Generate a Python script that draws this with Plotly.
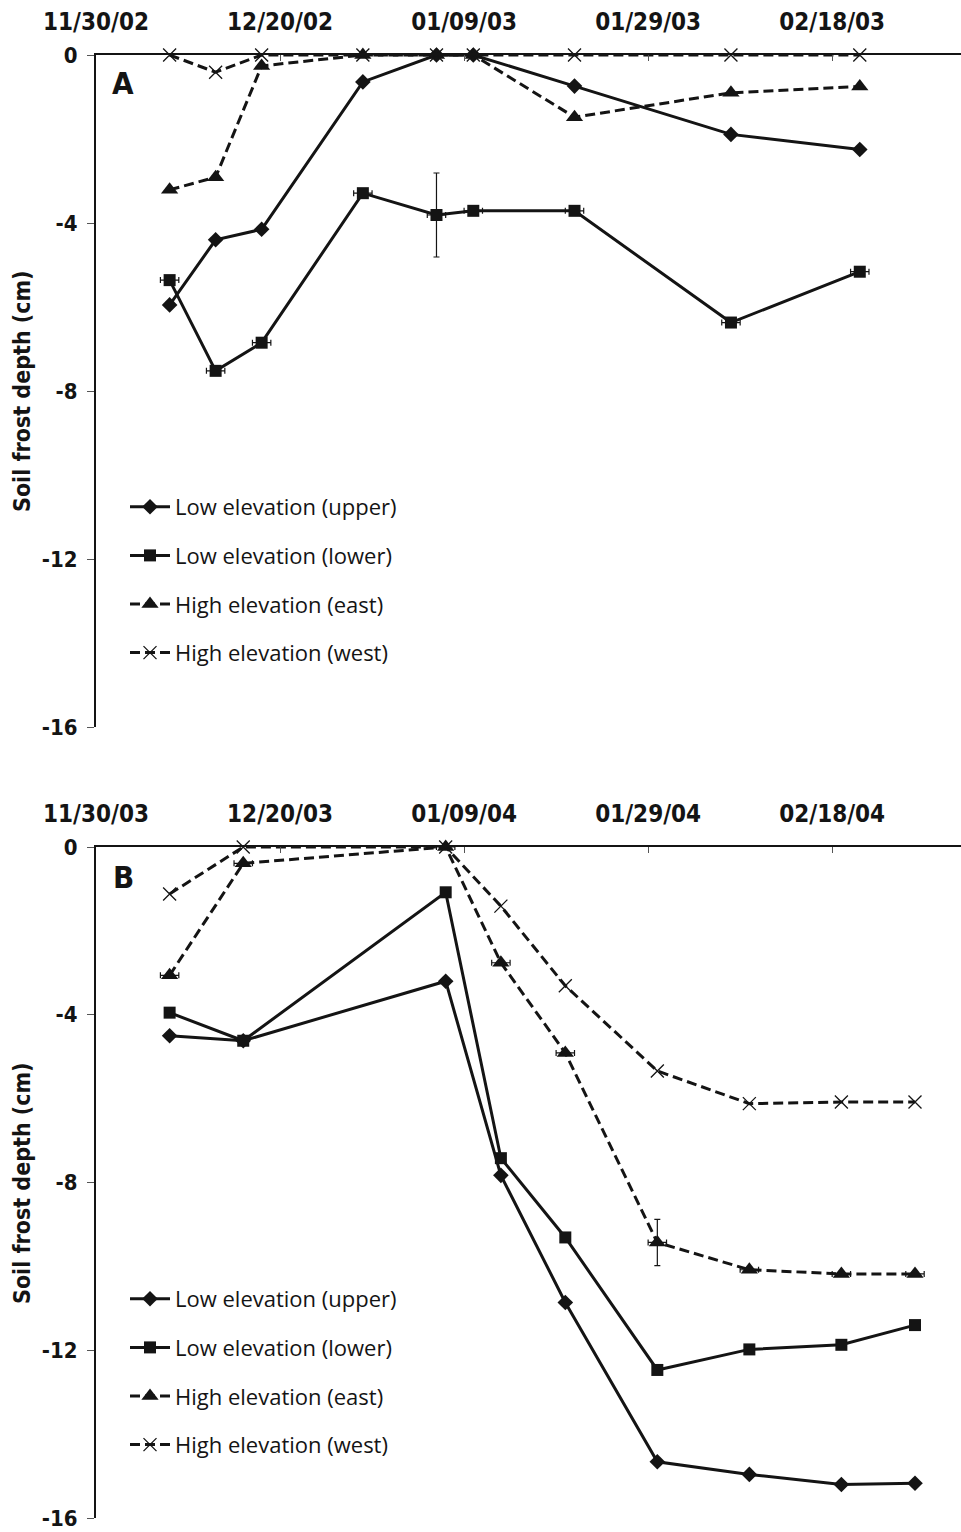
import pandas as pd
import plotly.graph_objects as go

# ---------------- data ----------------
series_names = ["Low elevation (upper)", "Low elevation (lower)",
                "High elevation (east)", "High elevation (west)"]

# Panel A: winter 2002-2003
start_a = "2002-11-30"
dates_a = ["2002-12-08", "2002-12-13", "2002-12-18", "2002-12-29", "2003-01-06",
           "2003-01-10", "2003-01-21", "2003-02-07", "2003-02-21"]
a_upper = [-5.95, -4.40, -4.15, -0.64, 0.0, 0.0, -0.74, -1.89, -2.25]
a_lower = [-5.36, -7.52, -6.85, -3.29, -3.81, -3.71, -3.71, -6.37, -5.16]
a_east = [-3.21, -2.91, -0.26, 0.0, 0.0, 0.0, -1.48, -0.90, -0.75]
a_west = [0.0, -0.41, 0.0, 0.0, 0.0, 0.0, 0.0, 0.0, 0.0]
a_lower_xerr_days = [1, 1, 1, 1, 1, 1, 1, 1, 1]
a_lower_yerr = [None, None, None, None, 1.0, None, None, None, None]
x_ticktext_a = ["11/30/02", "12/20/02", "01/09/03", "01/29/03", "02/18/03"]

# Panel B: winter 2003-2004
start_b = "2003-11-30"
dates_b = ["2003-12-08", "2003-12-16", "2004-01-07", "2004-01-13", "2004-01-20",
           "2004-01-30", "2004-02-09", "2004-02-19", "2004-02-27"]
b_upper = [-4.50, -4.62, -3.20, -7.83, -10.86, -14.66, -14.96, -15.20, -15.17]
b_lower = [-3.95, -4.62, -1.08, -7.42, -9.31, -12.47, -11.98, -11.87, -11.40]
b_east = [-3.06, -0.39, 0.0, -2.76, -4.91, -9.43, -10.08, -10.18, -10.18]
b_west = [-1.12, 0.0, 0.0, -1.41, -3.31, -5.34, -6.12, -6.08, -6.08]
b_east_xerr_days = [1, 1, 1, 1, 1, 1, 1, 1, 1]
b_east_yerr = [None, None, None, None, None, 0.55, None, None, None]
x_ticktext_b = ["11/30/03", "12/20/03", "01/09/04", "01/29/04", "02/18/04"]

x_tick_days = [0, 20, 40, 60, 80]
y_tickvals = [0, -4, -8, -12, -16]
y_ticktext = ["0", "-4", "-8", "-12", "-16"]
panel_labels = ["A", "B"]
axis_title = "Soil frost depth (cm)"

# ---------------- style ----------------
W, H = 961, 1532
L_MARGIN = 96
INK = "#141414"
BOLD_FONT = "DejaVu Sans Condensed, DejaVu Sans, sans-serif"
LEG_FONT = "Open Sans, sans-serif"

marker_styles = [
    dict(symbol="diamond", size=12, color=INK),
    dict(symbol="square", size=12, color=INK),
    dict(symbol="triangle-up", size=15, color=INK),
    dict(symbol="x-thin-open", size=13, color=INK, line=dict(color=INK, width=1.3)),
]
dashes = ["solid", "solid", "10px,5px", "10px,5px"]

fig = go.Figure()


def days_since(dates, start):
    return list((pd.to_datetime(dates) - pd.Timestamp(start)).days)


def add_panel(dates, start, series, xerrs, yerrs, xa, ya, legend_name, gid):
    xs = days_since(dates, start)
    for i, (name, vals) in enumerate(zip(series_names, series)):
        kw = {}
        if xerrs[i] is not None:
            kw["error_x"] = dict(type="data", array=xerrs[i], symmetric=True,
                                 color=INK, thickness=1.2, width=3)
        if yerrs[i] is not None:
            kw["error_y"] = dict(type="data", array=yerrs[i], symmetric=True,
                                 color=INK, thickness=1.2, width=3)
        fig.add_trace(go.Scatter(
            x=xs, y=vals, name=name, mode="lines+markers",
            line=dict(color=INK, width=3, dash=dashes[i]),
            marker=marker_styles[i], cliponaxis=False,
            xaxis=xa, yaxis=ya, legend=legend_name,
            legendgroup=f"{gid}{i}", **kw))


add_panel(dates_a, start_a, [a_upper, a_lower, a_east, a_west],
          [None, a_lower_xerr_days, None, None],
          [None, a_lower_yerr, None, None], "x", "y", "legend", "A")
add_panel(dates_b, start_b, [b_upper, b_lower, b_east, b_west],
          [None, None, b_east_xerr_days, None],
          [None, None, b_east_yerr, None], "x2", "y2", "legend2", "B")


def py(px):
    return (H - px) / H


def px_x(px):
    return (px - L_MARGIN) / (W - L_MARGIN)


def xaxis_cfg(ticktext, anchor):
    return dict(
        anchor=anchor, side="top", domain=[0, 1], range=[0, 94],
        tickvals=x_tick_days, ticktext=ticktext,
        ticks="inside", ticklen=6, tickwidth=1, tickcolor="#555",
        showline=True, linecolor=INK, linewidth=2,
        showgrid=False, zeroline=False, automargin=False,
        ticklabeloverflow="allow",
        tickfont=dict(family=BOLD_FONT, size=24, color=INK, weight="bold"),
        ticklabelstandoff=13,
    )


def yaxis_cfg(dom):
    return dict(
        domain=dom, range=[-16, 0], tickvals=y_tickvals, ticktext=y_ticktext,
        ticks="outside", ticklen=7, tickwidth=1, tickcolor="#555",
        showline=True, linecolor=INK, linewidth=2,
        showgrid=False, zeroline=False, automargin=False,
        ticklabeloverflow="allow",
        tickfont=dict(family=BOLD_FONT, size=22, color=INK, weight="bold"),
        ticklabelstandoff=5,
    )


leg_common = dict(font=dict(family=LEG_FONT, size=22, color=INK),
                  bgcolor="rgba(0,0,0,0)", borderwidth=0, itemwidth=40,
                  tracegroupgap=17, xanchor="left", yanchor="top",
                  itemclick=False, itemdoubleclick=False)

fig.update_layout(
    width=W, height=H, margin=dict(l=L_MARGIN, r=0, t=0, b=0, autoexpand=False),
    paper_bgcolor="white", plot_bgcolor="white",
    xaxis=xaxis_cfg(x_ticktext_a, "y"),
    xaxis2=xaxis_cfg(x_ticktext_b, "y2"),
    yaxis=yaxis_cfg([py(727), py(55)]),
    yaxis2=yaxis_cfg([py(1518), py(847)]),
    legend=dict(x=px_x(125), y=py(486), **leg_common),
    legend2=dict(x=px_x(125), y=py(1278), **leg_common),
    showlegend=True,
)

annots = []
for lab, ytop, ymid in zip(panel_labels, [83, 877], [391, 1183]):
    annots.append(dict(text=lab, xref="paper", yref="paper", x=px_x(123), y=py(ytop),
                       xanchor="center", yanchor="middle", showarrow=False,
                       font=dict(family=BOLD_FONT, size=31, color=INK, weight="bold")))
    annots.append(dict(text=axis_title, xref="paper", yref="paper", x=px_x(22), y=py(ymid),
                       xanchor="center", yanchor="middle", showarrow=False, textangle=-90,
                       font=dict(family=BOLD_FONT, size=23, color=INK, weight="bold")))
fig.update_layout(annotations=annots)

fig.write_html("out.html")
